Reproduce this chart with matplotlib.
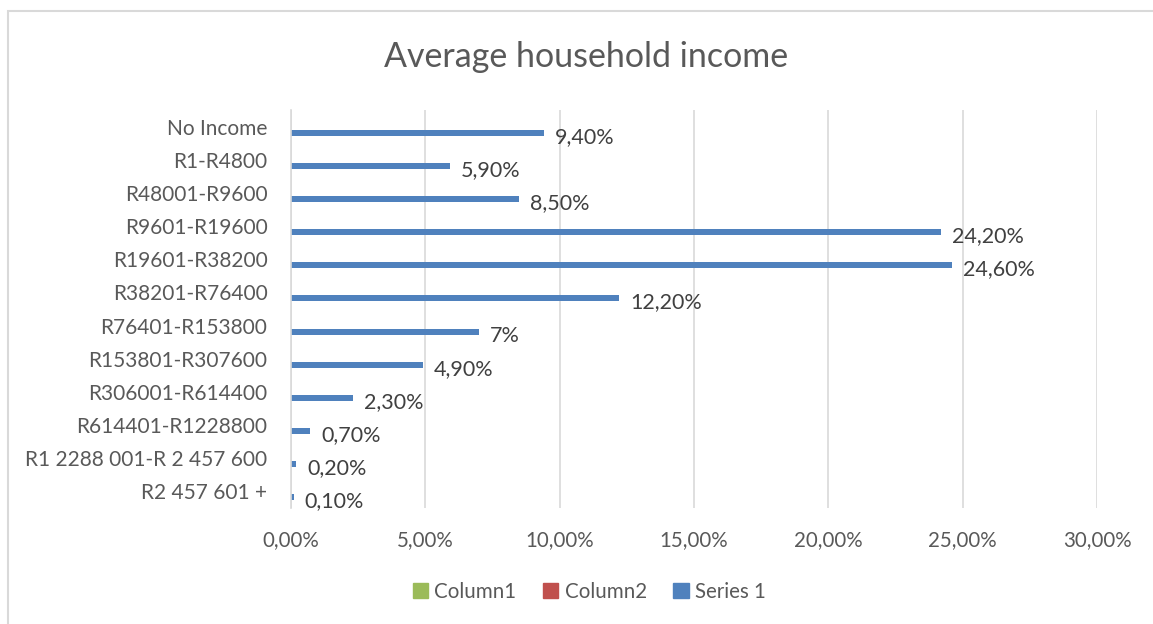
import matplotlib
matplotlib.use("Agg")
import matplotlib.pyplot as plt
import matplotlib.ticker as ticker
from matplotlib.patches import Rectangle, Patch
import numpy as np

categories = [
    "No Income", "R1-R4800", "R48001-R9600", "R9601-R19600", "R19601-R38200",
    "R38201-R76400", "R76401-R153800", "R153801-R307600", "R306001-R614400",
    "R614401-R1228800", "R1 2288 001-R 2 457 600", "R2 457 601 +",
]
series1 = [9.4, 5.9, 8.5, 24.2, 24.6, 12.2, 7.0, 4.9, 2.3, 0.7, 0.2, 0.1]
series1_labels = ["9,40%", "5,90%", "8,50%", "24,20%", "24,60%", "12,20%",
                  "7%", "4,90%", "2,30%", "0,70%", "0,20%", "0,10%"]
column1 = [0] * len(categories)
column2 = [0] * len(categories)

plt.rcParams['font.family'] = ['Lato', 'DejaVu Sans']

W, H = 1153, 624
fig = plt.figure(figsize=(W / 100, H / 100), dpi=100)
ax = fig.add_axes([291 / W, 1 - 508 / H, (1097 - 291) / W, (508 - 110) / H])

y = np.arange(len(categories))
bh = 0.18
ax.barh(y - bh, column1, height=bh, color='#9bbb59')
ax.barh(y, column2, height=bh, color='#c0504d')
ax.barh(y + bh, series1, height=bh, color='#4f81bd')

for yi, v, lab in zip(y, series1, series1_labels):
    ax.annotate(lab, (v, yi + bh), xytext=(8, -3), textcoords='offset points',
                ha='left', va='center', fontsize=15.5, color='#404040')

ax.set_xlim(0, 30)
ax.set_ylim(len(categories) - 0.5, -0.5)
ax.set_yticks(y)
ax.set_yticklabels(categories, fontsize=15, color='#595959')
ax.set_xticks(np.arange(0, 31, 5))
ax.xaxis.set_major_formatter(ticker.FuncFormatter(lambda x, p: f'{x:.2f}%'.replace('.', ',')))
ax.tick_params(axis='x', labelsize=14.8, labelcolor='#595959', length=0, pad=16)
ax.tick_params(axis='y', length=0, pad=17)

ax.grid(True, axis='x', color='#d9d9d9', linewidth=1.2)
ax.set_axisbelow(True)
for s in ['top', 'right', 'bottom']:
    ax.spines[s].set_visible(False)
ax.spines['left'].set_color('#d9d9d9')
ax.spines['left'].set_linewidth(1.2)

fig.text(0.508, 1 - 57 / H, "Average household income", ha='center', va='center',
         fontsize=24.5, color='#595959')

handles = [Patch(color='#9bbb59'), Patch(color='#c0504d'), Patch(color='#4f81bd')]
fig.legend(handles, ['Column1', 'Column2', 'Series 1'], loc='center',
           bbox_to_anchor=(0.511, 1 - 592 / H), ncol=3, frameon=False,
           fontsize=14.8, handlelength=0.75, handleheight=0.75, columnspacing=1.3,
           handletextpad=0.3, labelcolor='#595959')

# chart area border
fig.patches.append(Rectangle((8 / W, -0.05), 1.2, 1 - 11 / H + 0.05,
                             transform=fig.transFigure, fill=False,
                             edgecolor='#d9d9d9', linewidth=1.5))

fig.savefig("out.png", dpi=100)
